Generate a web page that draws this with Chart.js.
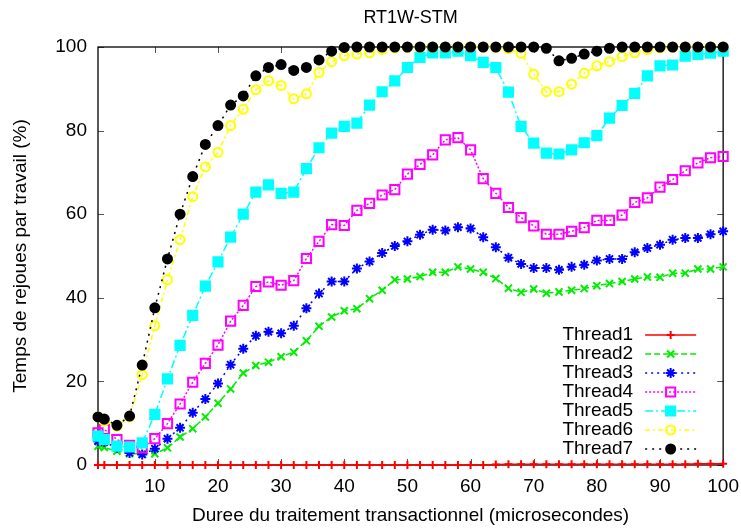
<!DOCTYPE html>
<html>
<head>
<meta charset="utf-8">
<title>RT1W-STM</title>
<script src="https://cdn.jsdelivr.net/npm/chart.js@4.4.1/dist/chart.umd.min.js"></script>
<style>
    html, body { margin: 0; padding: 0; background: #fff; }
</style>
</head>
<body>
<canvas id="myChart" width="741" height="530"></canvas>
<script>
// durees (microsecondes) mesurees
const durees = [1, 2, 4, 6, 8, 10, 12, 14, 16, 18, 20, 22, 24, 26, 28, 30, 32, 34, 36, 38, 40,
    42, 44, 46, 48, 50, 52, 54, 56, 58, 60, 62, 64, 66, 68, 70, 72, 74, 76, 78, 80,
    82, 84, 86, 88, 90, 92, 94, 96, 98, 100];

const thread1 = [0, 0, 0, 0, 0, 0, 0, 0, 0, 0, 0, 0, 0, 0, 0, 0, 0, 0, 0, 0, 0,
    0, 0, 0, 0, 0, 0, 0, 0, 0, 0, 0, 0.1, 0.2, 0.2, 0.2, 0.2, 0.2, 0.2, 0.2, 0.2,
    0.2, 0.2, 0.2, 0.2, 0.2, 0.2, 0.2, 0.3, 0.3, 0.3];
const thread2 = [4.5, 4.2, 3.3, 2.7, 2.7, 2.7, 4.1, 6.7, 8.7, 11.5, 14.8, 18.2, 22.0, 23.8, 24.6, 25.9, 27.0, 29.7, 33.2, 35.4, 36.9,
    37.4, 39.8, 41.8, 44.3, 44.5, 45.1, 46.1, 46.1, 47.4, 46.9, 46.1, 44.6, 42.3, 41.3, 42.1, 41.1, 41.4, 41.8, 42.2, 42.9,
    43.4, 43.9, 44.5, 45.0, 44.9, 45.9, 45.9, 46.9, 46.9, 47.4];
const thread3 = [5.7, 5.5, 4.1, 2.9, 2.5, 3.9, 6.3, 8.9, 12.5, 15.8, 19.5, 24.0, 27.8, 30.9, 31.9, 31.5, 33.3, 37.5, 41.0, 43.9, 43.9,
    47.0, 48.7, 50.7, 52.4, 53.5, 55.1, 56.3, 56.1, 56.9, 56.6, 54.5, 52.1, 49.6, 48.1, 47.1, 47.1, 46.7, 47.4, 47.9, 48.9,
    49.3, 49.3, 50.9, 51.9, 52.7, 53.9, 54.3, 54.3, 55.2, 55.9];
const thread4 = [7.7, 8.5, 6.1, 4.7, 4.1, 6.3, 9.9, 14.6, 19.8, 24.3, 28.7, 34.4, 38.2, 42.7, 43.8, 43.0, 44.1, 49.4, 53.5, 57.5, 57.3,
    60.9, 62.6, 64.6, 65.9, 69.6, 71.9, 74.2, 77.8, 78.3, 75.4, 68.5, 65.0, 61.6, 59.2, 57.2, 55.2, 55.2, 55.9, 56.8, 58.5,
    58.5, 59.8, 62.8, 63.9, 66.5, 68.3, 70.4, 72.3, 73.5, 73.8];
const thread5 = [6.9, 6.1, 4.5, 4.3, 5.3, 12.1, 20.6, 28.6, 35.8, 42.8, 48.6, 54.5, 60.0, 65.3, 67.0, 65.0, 65.3, 70.9, 75.9, 79.4, 81.0,
    81.8, 86.1, 89.3, 91.9, 95.1, 97.5, 98.6, 98.6, 99.0, 97.9, 96.3, 95.1, 89.2, 81.0, 77.0, 74.6, 74.4, 75.4, 77.1, 78.8,
    83.0, 86.0, 88.9, 93.1, 95.5, 95.7, 97.8, 98.2, 98.5, 99.0];
const thread6 = [11.5, 10.5, 9.3, 11.5, 21.6, 33.3, 44.3, 53.9, 64.2, 71.3, 74.8, 81.2, 85.1, 89.8, 91.9, 90.8, 87.6, 88.8, 93.9, 96.5, 97.9,
    98.3, 98.6, 99.4, 99.8, 99.9, 99.9, 100, 100, 100, 100, 100, 99.9, 99.6, 98.5, 93.5, 89.3, 89.3, 91.1, 93.7, 95.5,
    96.5, 97.7, 98.6, 99.4, 99.8, 99.9, 100, 100, 100, 100];
const thread7 = [11.5, 11.0, 9.5, 11.7, 23.9, 37.6, 49.3, 60.0, 69.0, 76.7, 81.2, 86.1, 88.3, 93.1, 95.1, 95.8, 94.4, 95.1, 96.9, 99.0, 99.9,
    100, 100, 100, 100, 100, 100, 100, 100, 100, 100, 100, 100, 100, 100, 100, 99.7, 96.7, 97.3, 98.3, 99.0,
    99.7, 100, 100, 100, 100, 100, 100, 100, 100, 100];

const xTicks = [10, 20, 30, 40, 50, 60, 70, 80, 90, 100];
const yTicks = [0, 20, 40, 60, 80, 100];

const police = '"Liberation Sans", Arial, sans-serif';
const taille = 19;

function serie(label, valeurs, couleur, dash, style, rayon, fond) {
    return {
        label: label,
        data: valeurs.map((v, i) => ({x: durees[i], y: v})),
        borderColor: couleur,
        borderWidth: 1.5,
        borderDash: dash,
        pointStyle: style,
        pointRadius: rayon,
        pointHoverRadius: rayon,
        pointBorderColor: couleur,
        pointBackgroundColor: fond,
        pointBorderWidth: 2,
        fill: false,
        tension: 0,
        clip: false
    };
}

const datasets = [
    serie("Thread1", thread1, "#ff0000", [], "cross", 4, "#ff0000"),
    serie("Thread2", thread2, "#00ee00", [6, 3], "crossRot", 5, "#00ee00"),
    serie("Thread3", thread3, "#0000ff", [2, 4], "star", 5, "#0000ff"),
    serie("Thread4", thread4, "#ff00ff", [2, 2], "rect", 6.5, "rgba(0,0,0,0)"),
    serie("Thread5", thread5, "#00ffff", [8, 3, 2, 3], "rect", 6.5, "#00ffff"),
    serie("Thread6", thread6, "#ffff00", [5, 3, 2, 3], "circle", 4.5, "rgba(0,0,0,0)"),
    serie("Thread7", thread7, "#000000", [2, 5], "circle", 4.5, "#000000")
];
// gnuplot dessine le dernier par-dessus
datasets.forEach((d, i) => d.order = datasets.length - i);

// cadre + graduations vers l'interieur
const cadre = {
    id: "cadre",
    beforeDatasetsDraw(chart) {
        const {ctx, chartArea: a, scales: {x, y}} = chart;
        ctx.save();
        ctx.strokeStyle = "#555";
        ctx.lineWidth = 1;
        ctx.beginPath();
        x.ticks.forEach(t => {
            const px = Math.round(x.getPixelForValue(t.value)) + 0.5;
            ctx.moveTo(px, a.bottom); ctx.lineTo(px, a.bottom - 6);
            ctx.moveTo(px, a.top); ctx.lineTo(px, a.top + 6);
        });
        y.ticks.forEach(t => {
            const py = Math.round(y.getPixelForValue(t.value)) + 0.5;
            ctx.moveTo(a.left, py); ctx.lineTo(a.left + 6, py);
            ctx.moveTo(a.right, py); ctx.lineTo(a.right - 6, py);
        });
        ctx.stroke();
        ctx.strokeStyle = "#000";
        ctx.lineWidth = 1.3;
        ctx.strokeRect(a.left, a.top, a.right - a.left, a.bottom - a.top);
        // titre centre sur la zone de trace
        ctx.fillStyle = "#000";
        ctx.font = "18px " + police;
        ctx.textAlign = "center";
        ctx.textBaseline = "middle";
        ctx.fillText("RT1W-STM", (a.left + a.right) / 2, 18);
        ctx.restore();
    }
};

// legende a la gnuplot : texte a gauche, echantillon a droite
const legende = {
    id: "legende",
    afterDatasetsDraw(chart) {
        const {ctx, chartArea: a} = chart;
        ctx.save();
        ctx.font = taille + "px " + police;
        ctx.textAlign = "right";
        ctx.textBaseline = "middle";
        chart.data.datasets.forEach((ds, i) => {
            const y = a.bottom - 130 + i * 19;
            const xTexte = a.right - 90;
            const x0 = a.right - 78, x1 = a.right - 27;
            ctx.fillStyle = "#000";
            ctx.fillText(ds.label, xTexte, y);
            ctx.strokeStyle = ds.borderColor;
            ctx.lineWidth = ds.borderWidth;
            ctx.setLineDash(ds.borderDash);
            ctx.beginPath();
            ctx.moveTo(x0, y); ctx.lineTo(x1, y);
            ctx.stroke();
            ctx.setLineDash([]);
            ctx.fillStyle = ds.pointBackgroundColor;
            ctx.strokeStyle = ds.pointBorderColor;
            ctx.lineWidth = ds.pointBorderWidth;
            Chart.helpers.drawPoint(ctx, {
                pointStyle: ds.pointStyle,
                radius: ds.pointRadius,
                rotation: 0,
                borderWidth: ds.pointBorderWidth
            }, (x0 + x1) / 2, y);
        });
        ctx.restore();
    }
};

const ctx = document.getElementById("myChart").getContext("2d");

const myChart = new Chart(ctx, {
    type: "line",
    data: {datasets: datasets},
    options: {
        responsive: false,
        maintainAspectRatio: false,
        animation: false,
        layout: {padding: {top: 47, right: 17, left: 0, bottom: 0}},
        plugins: {
            legend: {display: false},
            title: {display: false},
            tooltip: {enabled: false}
        },
        scales: {
            x: {
                type: "linear",
                min: 1,
                max: 100,
                afterBuildTicks: s => { s.ticks = xTicks.map(v => ({value: v})); },
                afterFit: s => { s.height = 65; },
                grid: {display: false},
                border: {display: false},
                ticks: {color: "#000", font: {family: police, size: taille}, padding: 2, maxRotation: 0, autoSkip: false},
                title: {
                    display: true,
                    text: "Duree du traitement transactionnel (microsecondes)",
                    color: "#000",
                    font: {family: police, size: taille},
                    padding: {top: 3, bottom: 3}
                }
            },
            y: {
                type: "linear",
                min: 0,
                max: 100,
                afterBuildTicks: s => { s.ticks = yTicks.map(v => ({value: v})); },
                afterFit: s => { s.width = 98; },
                grid: {display: false},
                border: {display: false},
                ticks: {color: "#000", font: {family: police, size: taille}, padding: 3},
                title: {
                    display: true,
                    text: "Temps de rejoues par travail (%)",
                    color: "#000",
                    font: {family: police, size: taille},
                    padding: {top: 9.5, bottom: 9.5}
                }
            }
        }
    },
    plugins: [cadre, legende]
});
</script>
</body>
</html>
